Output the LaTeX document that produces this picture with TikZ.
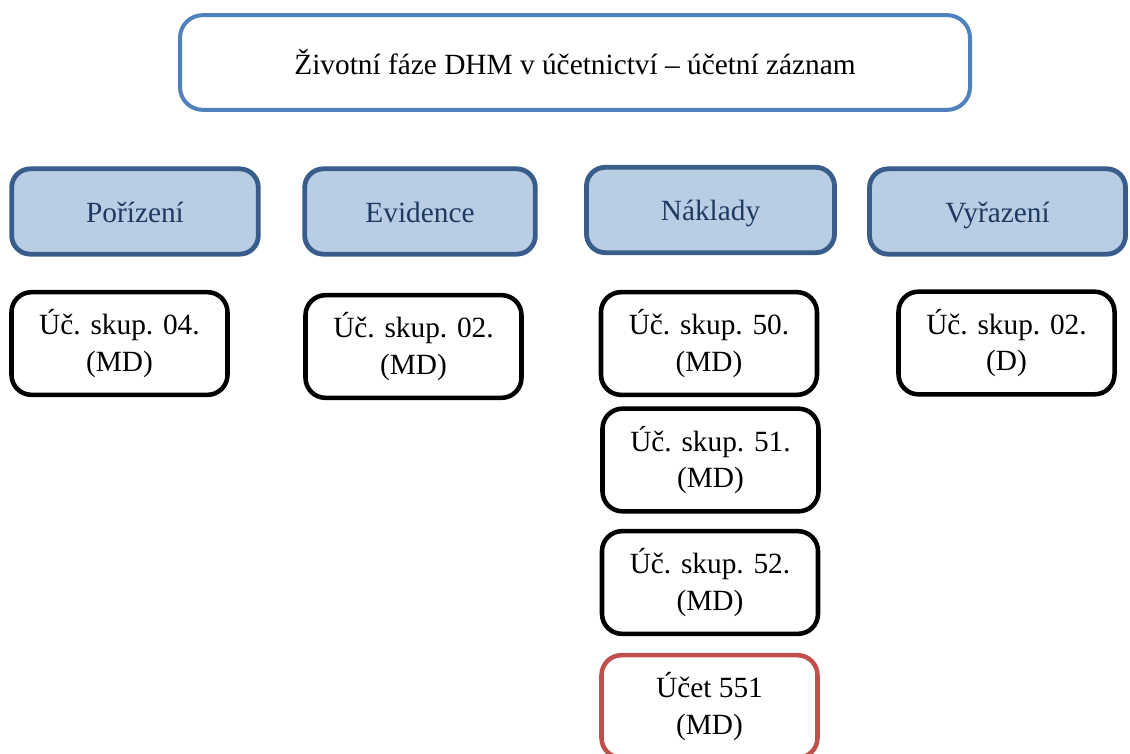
\documentclass[tikz,border=0pt]{standalone}
\usepackage{fontspec}
\setmainfont{Liberation Serif}
\definecolor{titleblue}{HTML}{4F81BD}
\definecolor{phaseedge}{HTML}{385D8A}
\definecolor{phasefill}{HTML}{B9CDE5}
\definecolor{phasetext}{HTML}{1F3A60}
\definecolor{alertred}{HTML}{C0504D}
\begin{document}
\begin{tikzpicture}[x=0.75pt,y=-0.75pt,
  titlebox/.style={draw=titleblue, line width=3pt, rounded corners=17pt, fill=white,
    minimum width=592.5pt, minimum height=71pt, font=\fontsize{22}{26}\selectfont},
  phasebox/.style={draw=phaseedge, fill=phasefill, line width=3.6pt, rounded corners=14pt,
    minimum height=64pt, text=phasetext, text height=16pt, text depth=0pt,
    font=\fontsize{22}{26}\selectfont},
  acctbox/.style={draw=black, line width=3.4pt, rounded corners=15pt, fill=white,
    minimum width=162pt, minimum height=77pt, align=center,
    font=\fontsize{22}{27.5}\selectfont},
  redbox/.style={acctbox, draw=alertred}]
\useasboundingbox (0,0) rectangle (1130,753);
\clip (0,0) rectangle (1130,753);

% heading
\node[titlebox] (title) at (575,62.5) {Životní fáze DHM v účetnictví – účetní záznam};

% phases
\node[phasebox, minimum width=185pt] (porizeni) at (135,211.5) {Pořízení};
\node[phasebox, minimum width=173pt] (evidence) at (420,211.5) {Evidence};
\node[phasebox, minimum width=186pt] (naklady) at (710.5,210) {Náklady};
\node[phasebox, minimum width=192pt] (vyrazeni) at (997.5,211.5) {Vyřazení};

% account groups
\node[acctbox] (u04) at (119.5,343.5) {Úč. skup. 04.\\(MD)};
\node[acctbox] (u02) at (413.5,346.5) {Úč. skup. 02.\\(MD)};
\node[acctbox] (u50) at (709,343.5) {Úč. skup. 50.\\(MD)};
\node[acctbox] (u51) at (710.5,460) {Úč. skup. 51.\\(MD)};
\node[acctbox] (u52) at (710,582.5) {Úč. skup. 52.\\(MD)};
\node[redbox]  (u551) at (709.5,706.5) {Účet 551\\(MD)};
\node[acctbox] (u02d) at (1006.5,343) {Úč. skup. 02.\\(D)};
\end{tikzpicture}
\end{document}
